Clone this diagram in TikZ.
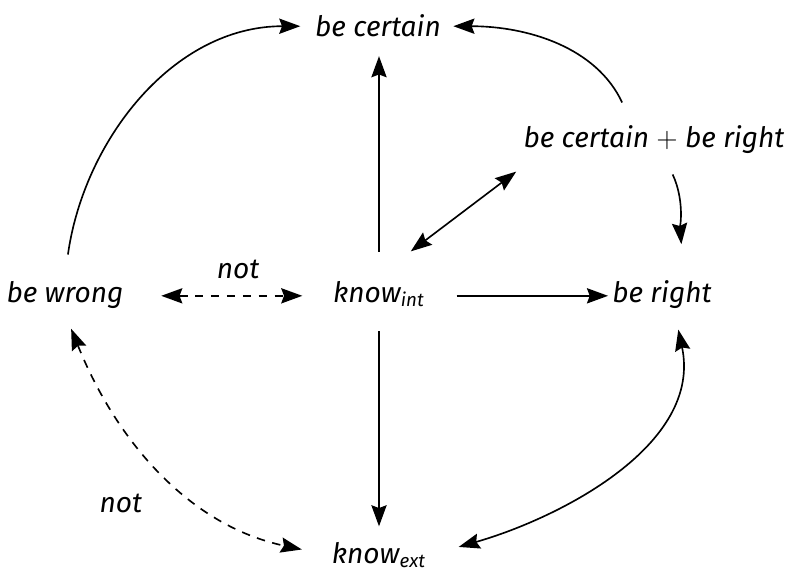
\documentclass[tikz,border=0pt]{standalone}
\usepackage{amsmath}
\usepackage{fontspec}
\setmainfont{Fira Sans}
\usepackage{tikz}
\usetikzlibrary{arrows.meta}

\tikzset{
  term/.style={inner sep=2pt, anchor=base},
  neg/.style={dashed, dash pattern=on 3.6pt off 3.2pt},
}

\begin{document}
\begin{tikzpicture}[auto, font=\fontsize{12}{14}\selectfont\itshape,
    >={Stealth[length=9pt,width=6.5pt,inset=1.2pt]}, line width=0.7pt]
      \useasboundingbox (0,0) rectangle (11.865,8.595);
      \node[term] (A) at (5.67, 8.04) {be certain};
      \node[term] (B) at (9.81, 6.375) {be certain $+$ be right};
      \node[term] (C) at (0.975, 4.065) {be wrong};
      \node[term] (D) at (5.685, 4.065) {know\textsubscript{int}};
      \node[term] (E) at (9.93, 4.065) {be right};
      \node[term] (F) at (5.685, 0.15) {know\textsubscript{ext}};
      \draw[->, shorten <=10pt, shorten >=5.7pt] (D) to (D |- A.south);
      \draw[->, shorten <=8pt, shorten >=4.3pt] (D) to (F);
      \draw[<->, shorten <=17pt, shorten >=8.5pt] (D.north) to ([xshift=6pt]B.south west);
      \draw[->, shorten <=11.2pt, shorten >=-0.5pt] (D.mid east) to (E.mid west);
      \draw[<->, neg, shorten <=13.8pt, shorten >=10.8pt] (C.mid east) to node[inner sep=7pt, pos=0.55] {not} (D.mid west);
      \draw[->, shorten <=9pt, shorten >=4pt] (C.north) to[out=82, in=180] (A.west);
      \draw[->, shorten <=8.5pt, shorten >=3pt] ([xshift=-10pt]B.north) to[out=115, in=0] (A.east);
      \draw[->, shorten <=7pt, shorten >=13pt] ([xshift=5pt]B.south) to[out=-65, in=95] ([xshift=9.4pt]E.north);
      \draw[<->, shorten <=7pt, shorten >=12pt] ([xshift=5.5pt]E.south) to[out=-78, in=16] (F.east);
      \draw[<->, neg, shorten <=7pt, shorten >=10.7pt] (C.south) to[out=-68, in=168] node[swap, pos=0.5, inner sep=9pt] {not} (F.west);
\end{tikzpicture}
\end{document}
